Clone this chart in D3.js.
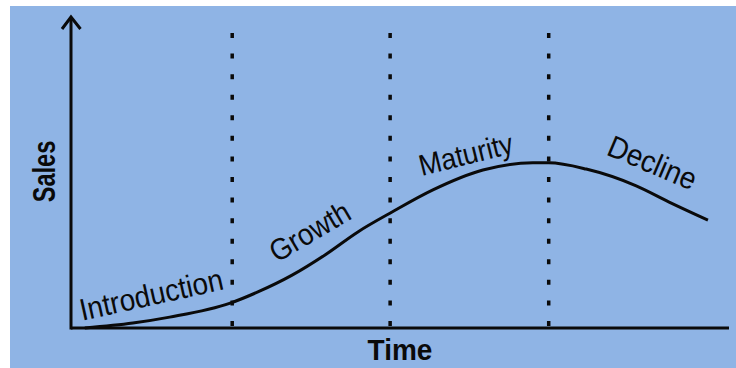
<!DOCTYPE html>
<html>
<head>
<meta charset="utf-8">
<script src="https://cdn.jsdelivr.net/npm/d3@7"></script>
<style>
  html, body { margin: 0; padding: 0; background: #ffffff; }
  svg { display: block; }
  text { font-family: "Liberation Sans", Arial, Helvetica, sans-serif; fill: #0a0a0a; }
</style>
</head>
<body>
<svg id="chart" width="736" height="368"></svg>
<script>
// ---- data ----
const timeValues  = [2.1, 9.4, 15.0, 24.2, 28.4, 33.6, 38.6, 43.6, 48.8, 55.0, 62.6, 70.2, 72.6, 78.3, 85.9, 90.9, 96.8];
const salesValues = [0.0, 1.6, 3.5, 8.0, 11.6, 17.0, 23.5, 30.9, 37.3, 44.4, 50.8, 53.1, 53.1, 51.1, 45.7, 40.5, 34.7];
const stageNames  = ["Introduction", "Growth", "Maturity", "Decline"];
const stageBounds = [24.5, 48.5, 72.6];
const xTitle = "Time";
const yTitle = "Sales";

// ---- layout (label placement in data units, rotation in degrees, font size) ----
const labelX    = [1.7, 31.3, 53.3, 81.2];
const labelY    = [2.3, 20.9, 48.9, 55.9];
const labelRot  = [-12.5, -30.5, -14, 23];
const labelSize = [28, 27.5, 27, 28];

const W = 736, H = 368;
const svg = d3.select("#chart");

// background panel
svg.append("rect").attr("x", 10).attr("y", 6).attr("width", W - 10).attr("height", H - 6)
  .attr("fill", "#8fb4e5");

const x = d3.scaleLinear().domain([0, 100]).range([71, 729]);
const y = d3.scaleLinear().domain([0, 100]).range([328, 17]);

// stage dividers
svg.append("g").selectAll("line").data(stageBounds).join("line")
  .attr("x1", d => x(d)).attr("x2", d => x(d))
  .attr("y1", 33).attr("y2", y(0))
  .attr("stroke", "#0a0a0a").attr("stroke-width", 3.5)
  .attr("stroke-dasharray", "5,15.57");

// axes
svg.append("line").attr("x1", x(0)).attr("x2", x(100)).attr("y1", y(0)).attr("y2", y(0))
  .attr("stroke", "#0a0a0a").attr("stroke-width", 3);
svg.append("line").attr("x1", x(0)).attr("x2", x(0)).attr("y1", y(0) + 1.5).attr("y2", y(100))
  .attr("stroke", "#0a0a0a").attr("stroke-width", 3);
// arrow head
svg.append("path")
  .attr("d", `M${x(0) - 9},${y(100) + 12} L${x(0)},${y(100)} L${x(0) + 9.5},${y(100) + 12}`)
  .attr("fill", "none").attr("stroke", "#0a0a0a").attr("stroke-width", 3)
  .attr("stroke-linejoin", "miter");

// curve
const pts = timeValues.map((t, i) => [t, salesValues[i]]);
const line = d3.line().x(d => x(d[0])).y(d => y(d[1])).curve(d3.curveMonotoneX);
svg.append("path").datum(pts).attr("d", line)
  .attr("fill", "none").attr("stroke", "#0a0a0a").attr("stroke-width", 3);

// stage labels
svg.append("g").selectAll("text").data(stageNames).join("text")
  .attr("transform", (d, i) => `translate(${x(labelX[i])},${y(labelY[i])}) rotate(${labelRot[i]}) scale(1,1.1)`)
  .attr("font-size", (d, i) => labelSize[i])
  .text(d => d);

// axis titles
svg.append("text")
  .attr("transform", "translate(400,360) scale(1,1.05)")
  .attr("text-anchor", "middle").attr("font-size", 28).attr("font-weight", "bold")
  .text(xTitle);
svg.append("text")
  .attr("transform", "translate(55,171.5) rotate(-90) scale(0.76,1)")
  .attr("text-anchor", "middle").attr("font-size", 31).attr("font-weight", "bold")
  .text(yTitle);
</script>
</body>
</html>
